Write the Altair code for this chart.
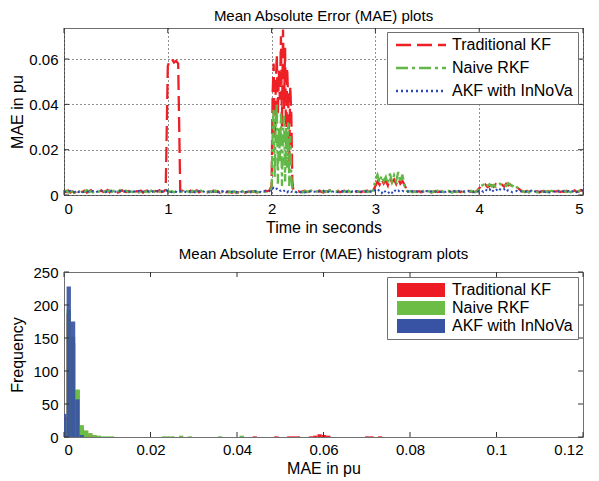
import altair as alt
import pandas as pd

SERIES = ["Traditional KF", "Naive RKF", "AKF with InNoVa"]
LINE_COLORS = ["#ee2026", "#62b846", "#2a48b8"]
BAR_COLORS = ["#ed1c24", "#6bbd45", "#3953a4"]
DASHES = [[15, 6], [12, 4, 3, 4], [2, 3]]

# ---- top panel: sample times (three segments, finer sampling in the 2 s burst)
t_a = [round(0.02 * i, 2) for i in range(100)]        # 0.00 .. 1.98
t_b = [round(2.00 + 0.01 * j, 2) for j in range(22)]  # 2.00 .. 2.21
t_c = [round(2.22 + 0.02 * k, 2) for k in range(140)] # 2.22 .. 5.00

red_a = [
    .0018, .0013, .0020, .0011, .0016, .0010, .0017, .0022, .0013, .0015,
    .0019, .0011, .0016, .0021, .0014, .0012, .0018, .0015, .0020, .0013,
    .0016, .0022, .0012, .0017, .0014, .0019, .0011, .0016, .0021, .0015,
    .0013, .0018, .0014, .0020, .0012, .0017, .0015, .0019, .0011, .0016,
    .0020, .0014, .0017, .0012, .0018, .0015, .0021, .0013, .0016, .0024,
    .0570, .0595, .0600, .0585, .0592, .0580, .0016, .0019, .0012, .0017,
    .0014, .0019, .0013, .0016, .0020, .0012, .0017, .0015, .0018, .0011,
    .0016, .0013, .0019, .0014, .0017, .0010, .0015, .0018, .0012, .0016,
    .0013, .0010, .0015, .0009, .0012, .0008, .0014, .0010, .0013, .0016,
    .0012, .0017, .0014, .0011, .0018, .0015, .0013, .0019, .0016, .0021,
]
red_b = [.0040, .0450, .0580, .0250, .0480, .0620, .0350, .0550, .0420, .0700, .0300,
         .0730, .0380, .0650, .0200, .0560, .0420, .0150, .0480, .0350, .0060, .0020]
red_c = [
    .0018, .0014, .0017, .0012, .0016, .0019, .0013, .0015, .0018, .0012,
    .0016, .0013, .0019, .0014, .0011, .0017, .0015, .0020, .0013, .0016,
    .0014, .0018, .0012, .0016, .0019, .0013, .0017, .0011, .0015, .0018,
    .0013, .0016, .0012, .0017, .0014, .0019, .0013, .0016, .0021, .0040,
    .0060, .0045, .0070, .0050, .0065, .0042, .0075, .0055, .0068, .0048,
    .0072, .0050, .0062, .0045, .0025, .0015, .0018, .0013, .0016, .0014,
    .0017, .0012, .0015, .0019, .0013, .0016, .0011, .0015, .0018, .0013,
    .0016, .0014, .0019, .0012, .0017, .0015, .0013, .0018, .0014, .0016,
    .0013, .0017, .0015, .0012, .0018, .0014, .0016, .0013, .0019, .0030,
    .0042, .0038, .0046, .0035, .0040, .0044, .0036, .0048, .0041, .0039,
    .0045, .0037, .0050, .0042, .0046, .0038, .0044, .0034, .0028, .0020,
    .0016, .0013, .0018, .0012, .0015, .0019, .0014, .0017, .0011, .0016,
    .0018, .0013, .0016, .0020, .0012, .0017, .0015, .0019, .0013, .0016,
    .0014, .0018, .0012, .0017, .0015, .0020, .0013, .0016, .0022, .0018,
]

green_a = [
    .0014, .0019, .0012, .0017, .0015, .0011, .0020, .0014, .0018, .0012,
    .0016, .0021, .0013, .0017, .0012, .0019, .0014, .0016, .0011, .0018,
    .0013, .0017, .0020, .0014, .0018, .0012, .0016, .0022, .0013, .0017,
    .0019, .0012, .0016, .0013, .0018, .0015, .0011, .0017, .0020, .0014,
    .0016, .0012, .0019, .0015, .0013, .0018, .0014, .0017, .0020, .0022,
    .0018, .0014, .0017, .0012, .0016, .0019, .0013, .0015, .0011, .0017,
    .0015, .0012, .0018, .0014, .0016, .0011, .0019, .0013, .0017, .0015,
    .0012, .0017, .0014, .0019, .0013, .0016, .0012, .0018, .0014, .0011,
    .0015, .0012, .0016, .0010, .0013, .0011, .0017, .0012, .0015, .0013,
    .0016, .0013, .0018, .0014, .0012, .0017, .0015, .0013, .0019, .0020,
]
green_b = [.0030, .0280, .0380, .0080, .0320, .0400, .0050, .0300, .0150, .0360, .0040,
           .0280, .0350, .0060, .0300, .0120, .0320, .0040, .0260, .0080, .0030, .0020]
green_c = [
    .0015, .0012, .0018, .0014, .0011, .0017, .0013, .0016, .0020, .0014,
    .0012, .0017, .0015, .0011, .0019, .0013, .0016, .0021, .0014, .0017,
    .0013, .0018, .0015, .0012, .0017, .0014, .0019, .0012, .0016, .0013,
    .0017, .0014, .0011, .0016, .0019, .0013, .0015, .0018, .0020, .0070,
    .0090, .0055, .0085, .0060, .0080, .0050, .0095, .0058, .0088, .0062,
    .0102, .0055, .0090, .0040, .0020, .0014, .0017, .0012, .0016, .0013,
    .0016, .0013, .0018, .0011, .0015, .0017, .0012, .0016, .0014, .0019,
    .0013, .0017, .0012, .0016, .0019, .0014, .0011, .0016, .0013, .0017,
    .0014, .0018, .0012, .0016, .0013, .0019, .0015, .0012, .0017, .0025,
    .0040, .0045, .0035, .0042, .0048, .0038, .0044, .0036, .0046, .0050,
    .0042, .0047, .0040, .0052, .0045, .0039, .0048, .0036, .0030, .0022,
    .0017, .0013, .0016, .0012, .0019, .0014, .0017, .0011, .0015, .0018,
    .0014, .0017, .0012, .0016, .0019, .0013, .0015, .0018, .0012, .0016,
    .0019, .0013, .0017, .0012, .0016, .0020, .0014, .0018, .0015, .0025,
]

blue_a = [
    .0016, .0012, .0015, .0018, .0011, .0014, .0017, .0013, .0016, .0012,
    .0015, .0018, .0012, .0014, .0017, .0011, .0015, .0013, .0018, .0014,
    .0012, .0016, .0014, .0019, .0013, .0015, .0012, .0017, .0014, .0016,
    .0018, .0013, .0015, .0011, .0016, .0014, .0018, .0012, .0015, .0013,
    .0015, .0017, .0012, .0016, .0014, .0018, .0013, .0015, .0017, .0022,
    .0018, .0015, .0012, .0016, .0014, .0011, .0017, .0013, .0015, .0012,
    .0016, .0014, .0018, .0012, .0015, .0017, .0013, .0016, .0011, .0015,
    .0013, .0017, .0014, .0016, .0012, .0015, .0018, .0013, .0016, .0014,
    .0012, .0015, .0011, .0014, .0010, .0013, .0016, .0012, .0014, .0011,
    .0015, .0013, .0017, .0014, .0016, .0012, .0015, .0018, .0014, .0017,
]
blue_b = [.0030, .0028, .0032, .0026, .0024, .0028, .0022, .0025, .0020, .0018, .0021,
          .0016, .0019, .0014, .0017, .0012, .0016, .0013, .0018, .0014, .0016, .0013]
blue_c = [
    .0015, .0012, .0017, .0013, .0016, .0011, .0015, .0018, .0013, .0016,
    .0014, .0011, .0016, .0013, .0017, .0012, .0015, .0013, .0018, .0014,
    .0016, .0012, .0015, .0017, .0011, .0014, .0016, .0013, .0015, .0012,
    .0017, .0013, .0015, .0012, .0016, .0014, .0018, .0013, .0016, .0022,
    .0028, .0015, .0008, .0022, .0012, .0006, .0018, .0010, .0024, .0014,
    .0020, .0012, .0018, .0015, .0013, .0016, .0012, .0017, .0014, .0016,
    .0013, .0016, .0012, .0015, .0018, .0013, .0016, .0011, .0015, .0017,
    .0014, .0012, .0016, .0013, .0017, .0015, .0012, .0016, .0014, .0018,
    .0015, .0012, .0016, .0013, .0017, .0014, .0012, .0016, .0013, .0018,
    .0020, .0014, .0024, .0018, .0026, .0012, .0022, .0028, .0016, .0025,
    .0020, .0026, .0014, .0022, .0018, .0012, .0015, .0018, .0013, .0016,
    .0014, .0017, .0012, .0015, .0018, .0013, .0016, .0012, .0015, .0017,
    .0013, .0016, .0014, .0011, .0017, .0015, .0012, .0016, .0014, .0018,
    .0015, .0012, .0017, .0014, .0016, .0019, .0013, .0016, .0020, .0022,
]

# ---- bottom panel: histogram bins (centres) and counts
BIN_WIDTH = 0.001
red_bins = [0.0001, 0.0011, 0.0021, 0.0031, 0.0041, 0.0051, 0.0061, 0.0071,
            0.0441, 0.0491, 0.0521, 0.0531, 0.0541, 0.0571, 0.0581, 0.0591,
            0.0601, 0.0611, 0.0701, 0.0711, 0.0731]
red_counts = [30, 187, 142, 71, 14, 9, 4, 2,
              1, 1, 1, 1, 1, 1, 2, 4,
              3, 2, 1, 1, 1]
green_bins = [0.0001, 0.0011, 0.0021, 0.0031, 0.0041, 0.0051, 0.0061, 0.0071,
              0.0081, 0.0091, 0.0101, 0.0111, 0.0231, 0.0241, 0.0251, 0.0271,
              0.0291, 0.0361, 0.0411]
green_counts = [25, 193, 152, 72, 18, 10, 6, 3,
                2, 1, 1, 1, 1, 1, 1, 2,
                1, 1, 2]
blue_bins = [0.0001, 0.0011, 0.0021, 0.0031, 0.0041]
blue_counts = [35, 228, 175, 57, 3]

x_ticks_top = [0, 1, 2, 3, 4, 5]
y_ticks_top = [0, 0.02, 0.04, 0.06]
x_ticks_bot = [0, 0.02, 0.04, 0.06, 0.08, 0.1, 0.12]
y_ticks_bot = [0, 50, 100, 150, 200, 250]

times = t_a + t_b + t_c
line_rows = []
for name, vals in zip(SERIES, [red_a + red_b + red_c, green_a + green_b + green_c, blue_a + blue_b + blue_c]):
    for t, v in zip(times, vals):
        line_rows.append({"t": t, "mae": v, "series": name})
line_df = pd.DataFrame(line_rows)

hist_rows = []
for name, bins, counts in zip(SERIES, [red_bins, green_bins, blue_bins], [red_counts, green_counts, blue_counts]):
    for c, n in zip(bins, counts):
        hist_rows.append({"lo": c - BIN_WIDTH / 2, "hi": c + BIN_WIDTH / 2, "freq": n, "series": name})
hist_df = pd.DataFrame(hist_rows)

W = 519
H_TOP = 167
H_BOT = 165
TICK = 5
FONT = "Liberation Sans"
TICK_COLOR = "#333333"
GRID = dict(grid=True, gridDash=[1, 3], gridColor="#222", gridOpacity=1)

# axes (shared by every layer of a panel so that the merged axis keeps them)
top_x_axis = alt.Axis(values=x_ticks_top, title="Time in seconds", format="d",
                      titlePadding=3, labelPadding=6, labelOverlap=False, **GRID)
top_y_axis = alt.Axis(values=y_ticks_top, title="MAE in pu", format=".2~f",
                      titleX=-47, titleBaseline="middle", labelOverlap=False, **GRID)
bot_x_axis = alt.Axis(values=x_ticks_bot, title="MAE in pu", format=".2~f", grid=False,
                      titlePadding=3, labelPadding=5, labelOverlap=False)
bot_y_axis = alt.Axis(values=y_ticks_bot, title="Frequency", format="d", grid=False,
                      titleX=-47, titleBaseline="middle", labelOverlap=False)


def inner_ticks(xvals, yvals, xscale, yscale, xaxis, yaxis, h):
    """Short inward tick marks on all four sides of a panel."""
    xdf = pd.DataFrame({"tv": xvals})
    ydf = pd.DataFrame({"tv": yvals})
    out = []
    for y0, y1 in [(h, h - TICK), (0, TICK)]:
        out.append(alt.Chart(xdf).mark_rule(color=TICK_COLOR, strokeWidth=1).encode(
            x=alt.X("tv:Q", scale=xscale, axis=xaxis), y=alt.value(y0), y2=alt.value(y1)))
    for x0, x1 in [(0, TICK), (W, W - TICK)]:
        out.append(alt.Chart(ydf).mark_rule(color=TICK_COLOR, strokeWidth=1).encode(
            y=alt.Y("tv:Q", scale=yscale, axis=yaxis), x=alt.value(x0), x2=alt.value(x1)))
    return out


# ---------------- top panel ----------------
top_x = alt.Scale(domain=[0, 5], nice=False)
top_y = alt.Scale(domain=[0, 0.0737], nice=False)
top_color = alt.Scale(domain=SERIES, range=LINE_COLORS)
top_dash = alt.Scale(domain=SERIES, range=DASHES)
top_legend = alt.Legend(
    title=None, orient="none", legendX=323, legendY=4,
    symbolType="M-5,0H5", symbolSize=100, symbolStrokeWidth=2.5, symbolOffset=21,
    labelFontSize=16, labelFont=FONT, labelColor="#000", labelOffset=23,
    rowPadding=7, padding=5, strokeColor="#707070", fillColor="white",
)

top_layers = []
for i, name in enumerate(SERIES):
    top_layers.append(
        alt.Chart(line_df).transform_filter(alt.datum.series == name)
        .mark_line(strokeWidth=2.3 if i < 2 else 2.0, clip=True)
        .encode(
            x=alt.X("t:Q", scale=top_x, axis=top_x_axis),
            y=alt.Y("mae:Q", scale=top_y, axis=top_y_axis),
            color=alt.Color("series:N", scale=top_color, legend=top_legend),
            strokeDash=alt.StrokeDash("series:N", scale=top_dash, legend=top_legend),
            order=alt.Order("t:Q"),
        )
    )
top = alt.layer(*(top_layers + inner_ticks(x_ticks_top, y_ticks_top, top_x, top_y,
                                            top_x_axis, top_y_axis, H_TOP))).properties(
    width=W, height=H_TOP,
    title=alt.TitleParams("Mean Absolute Error (MAE) plots", fontSize=15, fontWeight="normal", offset=4),
)

# ---------------- bottom panel ----------------
bot_x = alt.Scale(domain=[0, 0.12], nice=False)
bot_y = alt.Scale(domain=[0, 250], nice=False)
bot_color = alt.Scale(domain=SERIES, range=BAR_COLORS)
bot_legend = alt.Legend(
    title=None, orient="none", legendX=323, legendY=5,
    symbolType="M-4.8,-1.4H4.8V1.4H-4.8Z", symbolSize=100, symbolStrokeWidth=0,
    symbolOpacity=1, symbolOffset=21,
    labelFontSize=16, labelFont=FONT, labelColor="#000", labelOffset=23,
    rowPadding=2, padding=5, strokeColor="#707070", fillColor="white",
)
bot_layers = []
for i, name in enumerate(SERIES):
    bot_layers.append(
        alt.Chart(hist_df).transform_filter(alt.datum.series == name)
        .mark_rect(clip=True, opacity=0.92 if i == 2 else 1.0)
        .encode(
            x=alt.X("lo:Q", scale=bot_x, axis=bot_x_axis),
            x2="hi:Q",
            y=alt.Y("freq:Q", scale=bot_y, axis=bot_y_axis),
            y2=alt.datum(0),
            color=alt.Color("series:N", scale=bot_color, legend=bot_legend),
        )
    )
bottom = alt.layer(*(bot_layers + inner_ticks(x_ticks_bot, y_ticks_bot, bot_x, bot_y,
                                               bot_x_axis, bot_y_axis, H_BOT))).properties(
    width=W, height=H_BOT,
    title=alt.TitleParams("Mean Absolute Error (MAE) histogram plots", fontSize=15, fontWeight="normal", offset=3),
)

chart = (
    alt.vconcat(top, bottom, spacing=10)
    .resolve_scale(color="independent", strokeDash="independent")
    .resolve_legend(color="independent", strokeDash="independent")
    .properties(padding={"left": 0, "top": 0, "right": 5, "bottom": 5})
    .configure(font=FONT)
    .configure_view(stroke="#707070", strokeWidth=1)
    .configure_axis(domain=False, ticks=False, labelFontSize=15, titleFontSize=16,
                    labelColor="#000", titleColor="#000", titleFontWeight="normal",
                    labelPadding=6, labelFont=FONT, titleFont=FONT, labelOverlap=False)
    .configure_title(fontSize=15, fontWeight="normal", color="#000", font=FONT)
)

chart.save("out.html", embed_options={"renderer": "svg", "actions": False})
